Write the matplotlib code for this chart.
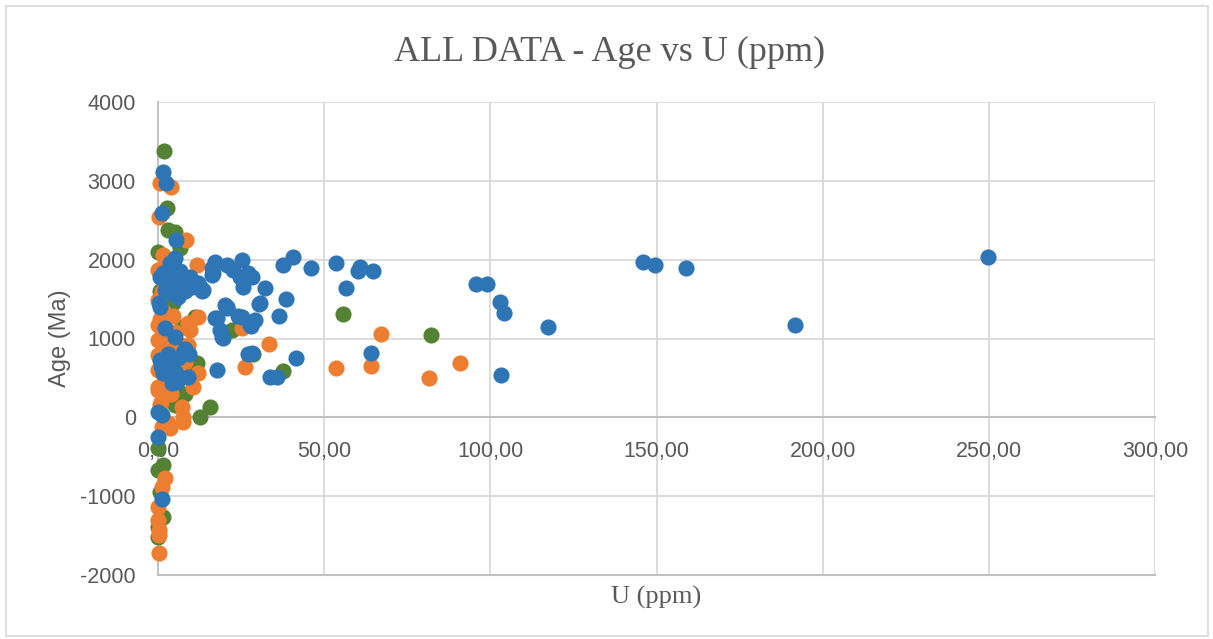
from matplotlib import pyplot as plt
from matplotlib.patches import Rectangle

plt.rcParams['axes.unicode_minus'] = False

# ----------------------------------------------------------------------
# Data (U in ppm, Age in Ma)

blue_u = [249.7, 191.6, 158.8, 149.5, 145.9, 117.3, 103.2, 104.1, 102.9, 99.0,
          95.6, 64.7, 64.1, 60.8, 60.2, 56.6, 53.5, 46.0, 40.6, 41.5,
          37.6, 38.5, 36.4, 32.2, 30.4, 28.0, 25.3, 27.1, 33.7, 35.8,
          24.7, 17.1, 20.8, 25.3, 16.5, 22.6, 28.3, 25.6, 30.7, 20.8,
          17.1, 24.1, 27.7, 18.6, 19.6, 12.6, 1.5, 2.4, 1.2, 5.4,
          5.1, 3.6, 16.2, 0.6, 10.5, 7.5, 1.5, 10.2, 16.2, 27.1,
          2.1, 6.0, 20.2, 0.6, 2.1, 5.1, 17.7, 20.8, 19.3, 29.2,
          28.3, 17.7, 7.5, 0.6, 4.2, 9.0, 5.7, 1.5, 4.2, 0.0,
          1.2, 0.0, 1.2, 6.6, 8.1, 3.0, 0.3, 11.4, 13.2, 9.3,
          3.0, 4.5, 6.6, 8.4, 9.6, 12.0, 13.5, 4.0, 7.0, 3.0,
          6.0, 8.0, 2.5, 5.5, 1.0]
blue_age = [2030, 1168, 1890, 1930, 1967, 1142, 533, 1320, 1460, 1690,
            1690, 1853, 812, 1904, 1853, 1637, 1954, 1891, 2030, 749,
            1929, 1497, 1282, 1637, 1434, 1155, 1269, 800, 508, 508,
            1777, 1967, 1929, 1992, 1827, 1865, 1777, 1650, 1447, 1383,
            1256, 1282, 1167, 1104, 1003, 1650, 3109, 2970, 2589, 2246,
            2018, 1954, 1891, 1777, 1675, 1777, 1827, 1650, 1802, 1827,
            1612, 1523, 1421, 1396, 1129, 1015, 1256, 1396, 1015, 1231,
            812, 596, 812, 723, 634, 508, 444, 558, 431, 63,
            25, -254, -1041, 1750, 1600, 1700, 1450, 1700, 1600, 800,
            1700, 1800, 1850, 1720, 1780, 1700, 1620, 1580, 1600, 800,
            750, 870, 620, 560, 650]

orange_u = [67.1, 33.4, 26.2, 53.5, 64.1, 81.5, 90.8, 25.3, 0.6, 3.9,
            0.3, 8.4, 1.5, 11.7, 0.0, 1.2, 1.2, 5.1, 12.0, 2.1,
            12.0, 10.5, 0.0, 0.0, 0.6, 7.2, 7.5, 3.0, 1.2, 3.6,
            7.5, 2.1, 1.2, 0.0, 0.0, 0.3, 0.3, 0.3, 0.0, 0.0,
            0.0, 0.0, 6.6, 9.0, 9.6, 4.5, 2.4, 0.0, 6.0, 4.2,
            1.5, 0.5, 3.0, 6.0, 8.0, 2.0, 4.0, 1.0, 9.0, 0.8]
orange_age = [1053, 926, 635, 622, 647, 495, 685, 1129, 2970, 2919,
              2538, 2246, 2056, 1929, 1865, 1586, 1231, 1079, 1269, 850,
              558, 381, 381, 343, 152, 127, 0, -76, -127, -140,
              -63, -774, -888, -1142, -1307, -1434, -1497, -1726, 1170, 977,
              1485, 787, 914, 914, 1104, 1290, 1950, 600, 640, 1650,
              1350, 1250, 1000, 850, 700, 500, 300, 200, 1200, 1800]

green_u = [55.6, 82.1, 37.6, 28.6, 1.8, 2.7, 3.0, 5.1, 6.6, 0.0,
           4.5, 11.1, 22.3, 11.7, 12.6, 15.6, 5.1, 1.5, 0.0, 0.6,
           1.5, 0.0, 0.0, 0.0, 3.3, 7.2, 1.8, 9.0, 2.5, 6.0,
           4.0, 8.0, 0.5, 3.5]
green_age = [1307, 1041, 584, 800, 3376, 2652, 2373, 2348, 2145, 2094,
             1447, 1269, 1104, 685, 0, 127, 152, -609, -673, -952,
             -1269, -1396, -1523, -393, 1850, 1150, 520, 700, 1100, 900,
             500, 300, 1600, 2000]

x_ticks = [0, 50, 100, 150, 200, 250, 300]
x_tick_labels = ['0,00', '50,00', '100,00', '150,00', '200,00', '250,00', '300,00']
y_ticks = [-2000, -1000, 0, 1000, 2000, 3000, 4000]

# ----------------------------------------------------------------------
text_grey = '#595959'
grid_grey = '#D9D9D9'
axis_grey = '#BFBFBF'

fig = plt.figure(figsize=(12.13, 6.39), dpi=100)
ax = fig.add_axes([158 / 1213, 1 - 575 / 639, (1155 - 158) / 1213, (575 - 102) / 639])

marker_kwargs = dict(s=135, linewidths=0, clip_on=False)
ax.scatter(green_u, green_age, color='#548235', zorder=3, **marker_kwargs)
ax.scatter(orange_u, orange_age, color='#ED7D31', zorder=4, **marker_kwargs)
ax.scatter(blue_u, blue_age, color='#2E75B6', zorder=5, **marker_kwargs)

ax.set_xlim(0, 300)
ax.set_ylim(-2000, 4000)
ax.set_xticks(x_ticks)
ax.set_xticklabels(x_tick_labels)
ax.set_yticks(y_ticks)

ax.grid(True, color=grid_grey, lw=1.3, zorder=0)
ax.set_axisbelow(True)
ax.axhline(-2000, color=axis_grey, lw=1.5, zorder=1, clip_on=False)

for side in ['top', 'right']:
    ax.spines[side].set_visible(False)
ax.spines['bottom'].set_position(('data', 0))
ax.spines['bottom'].set_color(axis_grey)
ax.spines['bottom'].set_linewidth(1.5)
ax.spines['left'].set_color(axis_grey)
ax.spines['left'].set_linewidth(1.3)

ax.tick_params(axis='both', length=0, labelsize=15.5, labelcolor=text_grey)
ax.tick_params(axis='x', pad=17)
ax.tick_params(axis='y', pad=16)
for lab in ax.get_xticklabels() + ax.get_yticklabels():
    lab.set_family('Liberation Sans')

fig.text(610 / 1213, 1 - 52 / 639, 'ALL DATA - Age vs U (ppm)', ha='center', va='center',
         fontsize=26, color=text_grey, family='Liberation Serif')
fig.text(656 / 1213, 1 - 597 / 639, 'U (ppm)', ha='center', va='center',
         fontsize=19, color=text_grey, family='Liberation Serif')
fig.text(60 / 1213, 1 - 338 / 639, 'Age (Ma)', ha='center', va='center', rotation=90,
         fontsize=17, color=text_grey, family='Liberation Sans')

fig.patches.append(Rectangle((6 / 1213, 3 / 639), 1202 / 1213, 630 / 639,
                             transform=fig.transFigure, fill=False,
                             ec=grid_grey, lw=1.2))

fig.savefig('out.png', dpi=100)
